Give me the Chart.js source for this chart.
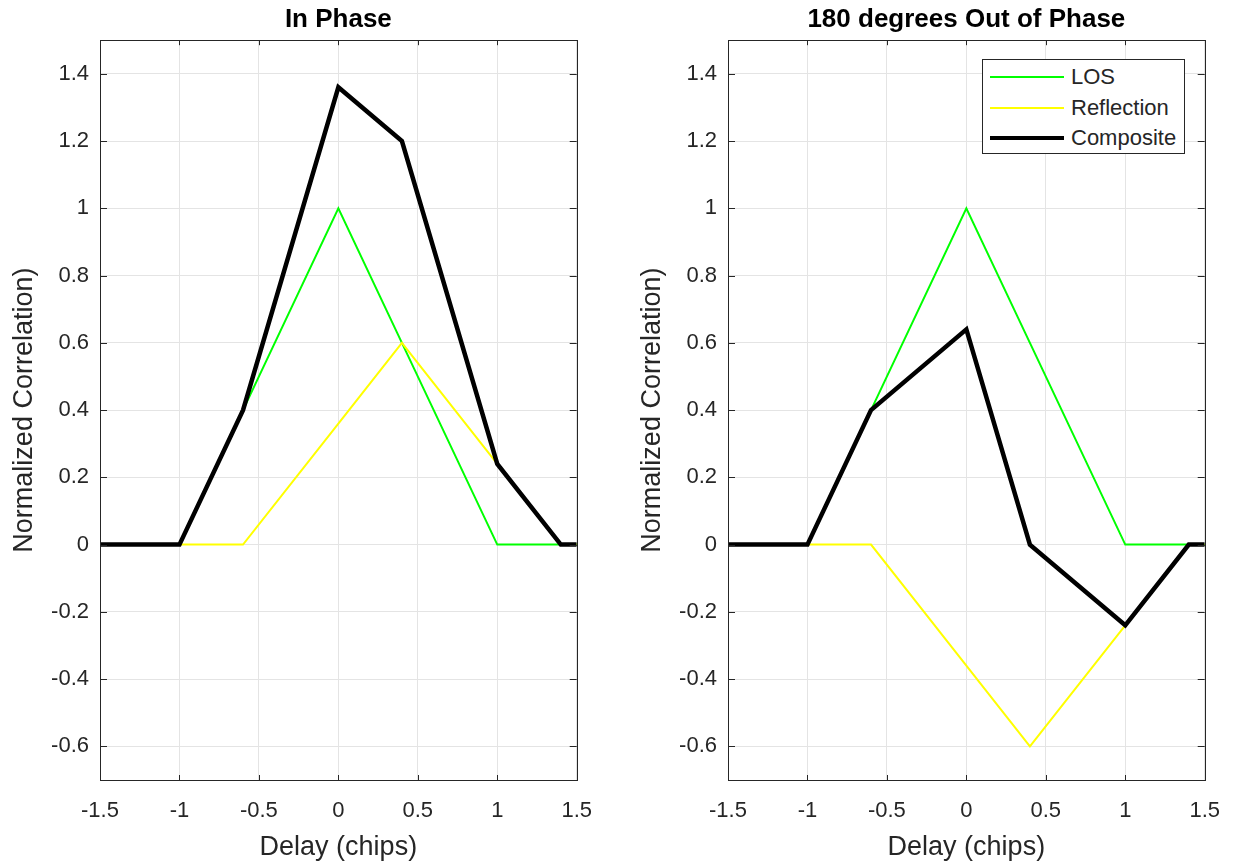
<!DOCTYPE html>
<html>
<head>
<meta charset="utf-8">
<script src="https://cdn.jsdelivr.net/npm/chart.js@4/dist/chart.umd.min.js"></script>
<style>
  body { margin: 0; background: #fff; }
  canvas { position: absolute; top: 0; }
  #legend { position: absolute; left: 982px; top: 59px; width: 201px; height: 93px;
    border: 1px solid #262626; background: #fff; font-family: "Liberation Sans", Arial, sans-serif;
    font-size: 22px; color: #262626; }
  .fila { position: absolute; left: 0; height: 30px; width: 200px; }
  .muestra { position: absolute; left: 7px; width: 74px; }
  .texto { position: absolute; left: 88px; line-height: 30px; top: 0; }
</style>
</head>
<body>
<canvas id="izq" width="610" height="865" style="left:0"></canvas>
<canvas id="der" width="610" height="865" style="left:628px"></canvas>
<div id="legend"></div>
<script>
// datos
const retardo = [-1.5, -1, -0.6, 0, 0.4, 1, 1.4, 1.5];
const los = [0, 0, 0.4, 1, 0.6, 0, 0, 0];
const reflexionEnFase = [0, 0, 0, 0.36, 0.6, 0.24, 0, 0];
const compuestaEnFase = [0, 0, 0.4, 1.36, 1.2, 0.24, 0, 0];
const reflexionFuera = [0, 0, 0, -0.36, -0.6, -0.24, 0, 0];
const compuestaFuera = [0, 0, 0.4, 0.64, 0, -0.24, 0, 0];
const ticksX = [-1.5, -1, -0.5, 0, 0.5, 1, 1.5];
const ticksY = [-0.6, -0.4, -0.2, 0, 0.2, 0.4, 0.6, 0.8, 1, 1.2, 1.4];

const fuente = "'Liberation Sans', Arial, sans-serif";
const gris = "#262626";

const puntos = (ys) => retardo.map((x, i) => ({ x: x, y: ys[i] }));

// caja de ejes con marcas hacia adentro (estilo MATLAB)
const cajaEjes = {
  id: "cajaEjes",
  afterDraw(chart) {
    const { ctx, chartArea: a, scales } = chart;
    ctx.save();
    ctx.strokeStyle = gris;
    ctx.lineWidth = 1;
    ctx.beginPath();
    ticksX.forEach((v) => {
      const px = Math.round(scales.x.getPixelForValue(v)) + 0.5;
      ctx.moveTo(px, a.bottom);
      ctx.lineTo(px, a.bottom - 5);
      ctx.moveTo(px, a.top);
      ctx.lineTo(px, a.top + 5);
    });
    ticksY.forEach((v) => {
      const py = Math.round(scales.y.getPixelForValue(v)) + 0.5;
      ctx.moveTo(a.left, py);
      ctx.lineTo(a.left + 7, py);
      ctx.moveTo(a.right, py);
      ctx.lineTo(a.right - 7, py);
    });
    ctx.stroke();
    ctx.strokeRect(Math.round(a.left) + 0.5, Math.round(a.top) + 0.5,
      Math.round(a.right - a.left), Math.round(a.bottom - a.top));
    ctx.restore();
  },
};

function formato(v) {
  return String(Number(v.toFixed(2)));
}

function crearGrafico(id, titulo, reflexion, compuesta) {
  return new Chart(document.getElementById(id), {
    type: "scatter",
    data: {
      datasets: [
        { label: "LOS", data: puntos(los), borderColor: "#00ff00", borderWidth: 2, order: 2 },
        { label: "Reflection", data: puntos(reflexion), borderColor: "#ffff00", borderWidth: 2, order: 1 },
        { label: "Composite", data: puntos(compuesta), borderColor: "#000000", borderWidth: 4.5, order: 0 },
      ].map((d) => ({ ...d, showLine: true, pointRadius: 0, fill: false, tension: 0 })),
    },
    options: {
      responsive: false,
      animation: false,
      layout: { padding: { left: 0, right: 33, top: 0, bottom: 0 } },
      plugins: {
        legend: { display: false },
        tooltip: { enabled: false },
        title: {
          display: true,
          text: titulo,
          fullSize: false,
          color: "#000",
          font: { family: fuente, size: 26, weight: "bold" },
          padding: { top: 4, bottom: 5 },
        },
      },
      scales: {
        x: {
          type: "linear",
          min: -1.5,
          max: 1.5,
          afterBuildTicks: (s) => { s.ticks = ticksX.map((v) => ({ value: v })); },
          afterFit: (s) => { s.height = 85; },
          grid: { color: "#e4e4e4", drawTicks: false },
          border: { display: false },
          ticks: { color: gris, padding: 18, font: { family: fuente, size: 22 }, callback: formato, maxRotation: 0 },
          title: {
            display: true,
            text: "Delay (chips)",
            color: gris,
            font: { family: fuente, size: 27 },
            padding: { top: 0, bottom: 1 },
          },
        },
        y: {
          type: "linear",
          min: -0.7,
          max: 1.5,
          afterBuildTicks: (s) => { s.ticks = ticksY.map((v) => ({ value: v })); },
          afterFit: (s) => { s.width = 100; },
          grid: { color: "#e4e4e4", drawTicks: false },
          border: { display: false },
          ticks: { color: gris, padding: 11, font: { family: fuente, size: 22 }, callback: formato },
          title: {
            display: true,
            text: "Normalized Correlation)",
            color: gris,
            font: { family: fuente, size: 27 },
            padding: { top: 8, bottom: 0 },
          },
        },
      },
    },
    plugins: [cajaEjes],
  });
}

crearGrafico("izq", "In Phase", reflexionEnFase, compuestaEnFase);
const graficoDer = crearGrafico("der", "180 degrees Out of Phase", reflexionFuera, compuestaFuera);

// leyenda dentro del area del grafico derecho
const leyenda = document.getElementById("legend");
graficoDer.data.datasets.forEach((d, i) => {
  const fila = document.createElement("div");
  fila.className = "fila";
  fila.style.top = (2 + i * 30.5) + "px";
  const muestra = document.createElement("div");
  muestra.className = "muestra";
  muestra.style.height = d.borderWidth + "px";
  muestra.style.top = (15 - d.borderWidth / 2) + "px";
  muestra.style.background = d.borderColor;
  const texto = document.createElement("div");
  texto.className = "texto";
  texto.textContent = d.label;
  fila.appendChild(muestra);
  fila.appendChild(texto);
  leyenda.appendChild(fila);
});
</script>
</body>
</html>
